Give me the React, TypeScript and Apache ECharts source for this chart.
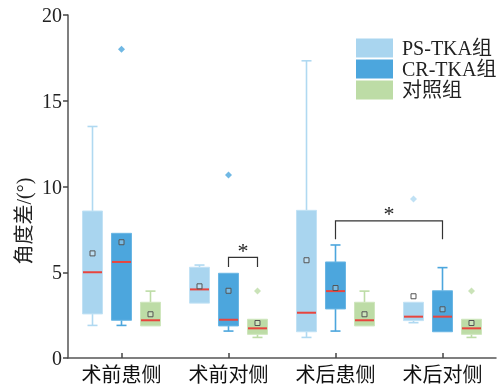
import React, { useEffect, useRef } from 'react';
import * as echarts from 'echarts';

const categories = ['术前患侧', '术前对侧', '术后患侧', '术后对侧'];
const seriesNames = ['PS-TKA组', 'CR-TKA组', '对照组'];
const yTicks = { min: 0, max: 20, interval: 5 };

// [min, Q1, median, Q3, max]
const psBox = [
  [1.9, 2.57, 5.0, 8.57, 13.5],
  [3.2, 3.2, 4.0, 5.29, 5.42],
  [1.2, 1.53, 2.64, 8.61, 17.33],
  [2.06, 2.18, 2.41, 3.25, 3.25],
];
const psMean = [6.1, 4.18, 5.7, 3.6];
const crBox = [
  [1.9, 2.2, 5.6, 7.27, 7.27],
  [1.57, 1.87, 2.23, 4.94, 4.94],
  [1.57, 2.86, 3.9, 5.6, 6.59],
  [1.53, 1.53, 2.41, 3.92, 5.27],
];
const crMean = [6.75, 3.92, 4.08, 2.84];
const ctrlBox = [
  [1.87, 1.87, 2.2, 3.25, 3.9],
  [1.2, 1.38, 1.73, 2.26, 2.26],
  [1.87, 1.87, 2.2, 3.25, 3.9],
  [1.2, 1.38, 1.73, 2.26, 2.26],
];
const ctrlMean = [2.55, 2.04, 2.55, 2.04];

// outliers: [category index, value]
const psOutliers = [[3, 9.27]];
const crOutliers = [[0, 18.0], [1, 10.67]];
const ctrlOutliers = [[1, 3.9], [3, 3.9]];

// significance brackets: [cat A, group A, cat B, group B, top value, leg value]
const brackets = [
  [1, 1, 1, 2, 5.87, 5.3],
  [2, 1, 3, 1, 8.0, 6.92],
];

const FILLS = ['#a9d5ef', '#4ca6dd', '#bddca6'];
const STROKES = ['#c2e2f5', '#6ab6e4', '#cfe6bd'];
const WHISKERS = ['#b0d9f1', '#4ca6dd', '#bddca6'];
const OFFSET = [-0.271, 0, 0.271];
const BOX_W = 0.187;
const FONT = '"Times New Roman", "Liberation Serif", "Noto Sans CJK SC", serif';

function makeRender(g: number) {
  return (params: any, api: any) => {
    const i = api.value(0);
    const mn = api.value(1), q1 = api.value(2), md = api.value(3), q3 = api.value(4), mx = api.value(5), mean = api.value(6);
    const band = api.size([1, 0])[0];
    const cx = api.coord([i, 0])[0] + OFFSET[g] * band;
    const bw = band * BOX_W;
    const Y = (v: number) => api.coord([i, v])[1];
    const cap = bw * 0.5;
    const wStyle = { stroke: WHISKERS[g], lineWidth: 1.6 };
    const children: any[] = [];
    if (mx > q3) {
      children.push({ type: 'line', shape: { x1: cx, y1: Y(q3), x2: cx, y2: Y(mx) }, style: wStyle });
      children.push({ type: 'line', shape: { x1: cx - cap / 2, y1: Y(mx), x2: cx + cap / 2, y2: Y(mx) }, style: wStyle });
    }
    if (mn < q1) {
      children.push({ type: 'line', shape: { x1: cx, y1: Y(q1), x2: cx, y2: Y(mn) }, style: wStyle });
      children.push({ type: 'line', shape: { x1: cx - cap / 2, y1: Y(mn), x2: cx + cap / 2, y2: Y(mn) }, style: wStyle });
    }
    children.push({
      type: 'rect',
      shape: { x: cx - bw / 2, y: Y(q3), width: bw, height: Y(q1) - Y(q3) },
      style: { fill: FILLS[g], stroke: STROKES[g], lineWidth: 1 },
    });
    children.push({
      type: 'line',
      shape: { x1: cx - bw / 2 + 0.5, y1: Y(md), x2: cx + bw / 2 - 0.5, y2: Y(md) },
      style: { stroke: '#e8453e', lineWidth: 2 },
    });
    children.push({
      type: 'rect',
      shape: { x: cx - 2.5, y: Y(mean) - 2.5, width: 5, height: 5 },
      style: { fill: 'rgba(255,255,255,0.25)', stroke: '#555', lineWidth: 1 },
    });
    return { type: 'group', children };
  };
}

function bracketRender(params: any, api: any) {
  const ca = api.value(0), ga = api.value(1), cb = api.value(2), gb = api.value(3);
  const top = api.value(4), leg = api.value(5);
  const band = api.size([1, 0])[0];
  const xa = api.coord([ca, top])[0] + OFFSET[ga] * band;
  const xb = api.coord([cb, top])[0] + OFFSET[gb] * band;
  const yt = api.coord([ca, top])[1];
  const yl = api.coord([ca, leg])[1];
  return {
    type: 'group',
    children: [
      {
        type: 'polyline',
        shape: { points: [[xa, yl], [xa, yt], [xb, yt], [xb, yl]] },
        style: { stroke: '#333', lineWidth: 1.2, fill: 'none' },
      },
      {
        type: 'text',
        style: {
          x: (xa + xb) / 2,
          y: yt + 4,
          text: '*',
          font: '22px ' + FONT,
          fill: '#222',
          textAlign: 'center',
          textVerticalAlign: 'bottom',
        },
      },
    ],
  };
}

const boxes = [psBox, crBox, ctrlBox];
const means = [psMean, crMean, ctrlMean];
const outliers = [psOutliers, crOutliers, ctrlOutliers];

export default function App() {
  const ref = useRef<HTMLDivElement>(null);
  useEffect(() => {
    if (!ref.current) return;
    const chart = echarts.init(ref.current, undefined, { renderer: 'svg' });
    const boxSeries = seriesNames.map((name, g) => ({
      name,
      type: 'custom',
      renderItem: makeRender(g),
      itemStyle: { color: FILLS[g] },
      encode: { x: 0, y: [1, 2, 3, 4, 5, 6] },
      data: categories.map((_, i) => [i, ...boxes[g][i], means[g][i]]),
      z: 2,
    }));
    const outlierSeries = seriesNames.map((name, g) => ({
      name: name + '离群值',
      type: 'scatter',
      symbol: 'diamond',
      symbolSize: 7,
      symbolOffset: [Math.round(OFFSET[g] * 107), 0],
      itemStyle: { color: WHISKERS[g] },
      data: outliers[g],
      z: 3,
    }));
    chart.setOption({
      animation: false,
      grid: { left: 68, right: 1, top: 15, bottom: 30, containLabel: false },
      legend: {
        data: seriesNames,
        orient: 'vertical',
        left: 356,
        top: 38,
        padding: 0,
        icon: 'rect',
        itemWidth: 37,
        itemHeight: 19,
        itemGap: 1,
        selectedMode: false,
        textStyle: { fontSize: 20, fontFamily: FONT, color: '#222', padding: [0, 0, 0, 4], lineHeight: 19 },
      },
      xAxis: {
        type: 'category',
        data: categories,
        axisLine: { show: true, lineStyle: { color: '#555', width: 1.5 } },
        axisTick: { show: true, alignWithLabel: true, inside: true, length: 5, lineStyle: { color: '#444', width: 1.5 } },
        axisLabel: { fontSize: 20, fontFamily: FONT, color: '#111', margin: 7 },
        splitLine: { show: false },
      },
      yAxis: {
        type: 'value',
        min: yTicks.min,
        max: yTicks.max,
        interval: yTicks.interval,
        axisLine: { show: true, lineStyle: { color: '#555', width: 1.5 } },
        axisTick: { show: true, inside: false, length: 5, lineStyle: { color: '#444', width: 1.5 } },
        axisLabel: { fontSize: 20, fontFamily: FONT, color: '#222', margin: 6 },
        splitLine: { show: false },
      },
      graphic: [
        {
          type: 'text',
          x: 24,
          y: 221,
          rotation: Math.PI / 2,
          style: {
            text: '角度差/(°)',
            font: '20px ' + FONT,
            fill: '#222',
            textAlign: 'center',
            textVerticalAlign: 'middle',
          },
        },
      ],
      series: [
        ...boxSeries,
        ...outlierSeries,
        {
          name: 'brackets',
          type: 'custom',
          renderItem: bracketRender,
          encode: { x: 0, y: [4, 5] },
          data: brackets,
          z: 4,
        },
      ],
    });
    return () => chart.dispose();
  }, []);
  return <div ref={ref} style={{ position: 'fixed', left: 0, top: 0, width: 497, height: 388 }} />;
}
